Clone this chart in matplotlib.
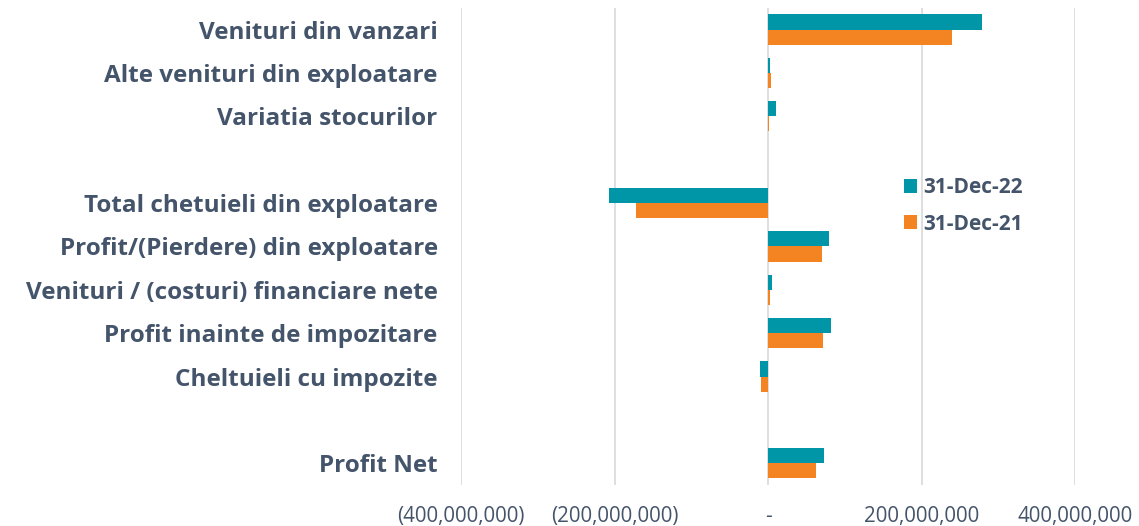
import numpy as np
import matplotlib.pyplot as plt
from matplotlib.ticker import FuncFormatter

categories = ['Venituri din vanzari', 'Alte venituri din exploatare', 'Variatia stocurilor', '',
              'Total chetuieli din exploatare', 'Profit/(Pierdere) din exploatare',
              'Venituri / (costuri) financiare nete', 'Profit inainte de impozitare',
              'Cheltuieli cu impozite', '', 'Profit Net']
dec22 = [278e6, 2e6, 9.5e6, 0, -207e6, 79e6, 5e6, 82e6, -11e6, 0, 72e6]
dec21 = [240e6, 3e6, 1.5e6, 0, -172e6, 70e6, 2e6, 71e6, -10e6, 0, 62e6]

teal = '#0096A8'
orange = '#F48421'
txt = '#44546A'

plt.rcParams['font.family'] = ['Open Sans', 'DejaVu Sans']
fig = plt.figure(figsize=(11.39, 5.26), dpi=100)
ax = fig.add_axes([0.405, 0.078, 0.539, 0.907])

y = np.arange(len(categories))
h = 0.35
ax.barh(y - h/2, dec22, height=h, color=teal, label='31-Dec-22', zorder=3)
ax.barh(y + h/2, dec21, height=h, color=orange, label='31-Dec-21', zorder=3)

ax.set_ylim(len(categories) - 0.5, -0.5)
ax.set_xlim(-400e6, 400e6)
ax.set_xticks([-400e6, -200e6, 0, 200e6, 400e6])

def fmt(v, pos):
    if v == 0:
        return '-'
    if v < 0:
        return '({:,.0f})'.format(-v)
    return '{:,.0f}'.format(v)
ax.xaxis.set_major_formatter(FuncFormatter(fmt))

ax.set_yticks(y)
ax.set_yticklabels(categories, fontsize=17.5, fontweight='bold', color=txt)
ax.tick_params(axis='y', length=0, pad=17)
ax.tick_params(axis='x', length=0, pad=15, labelsize=14.8, labelcolor=txt)
ax.grid(axis='x', color='#D9D9D9', lw=1.2, zorder=0)
for s in ax.spines.values():
    s.set_visible(False)

leg = ax.legend(loc='upper left', bbox_to_anchor=(0.69, 0.685), frameon=False,
                prop={'weight': 'bold', 'size': 15}, handlelength=0.65, handleheight=0.65,
                handletextpad=0.3, labelspacing=0.75)
for t in leg.get_texts():
    t.set_color(txt)

fig.savefig('out.png', dpi=100)
